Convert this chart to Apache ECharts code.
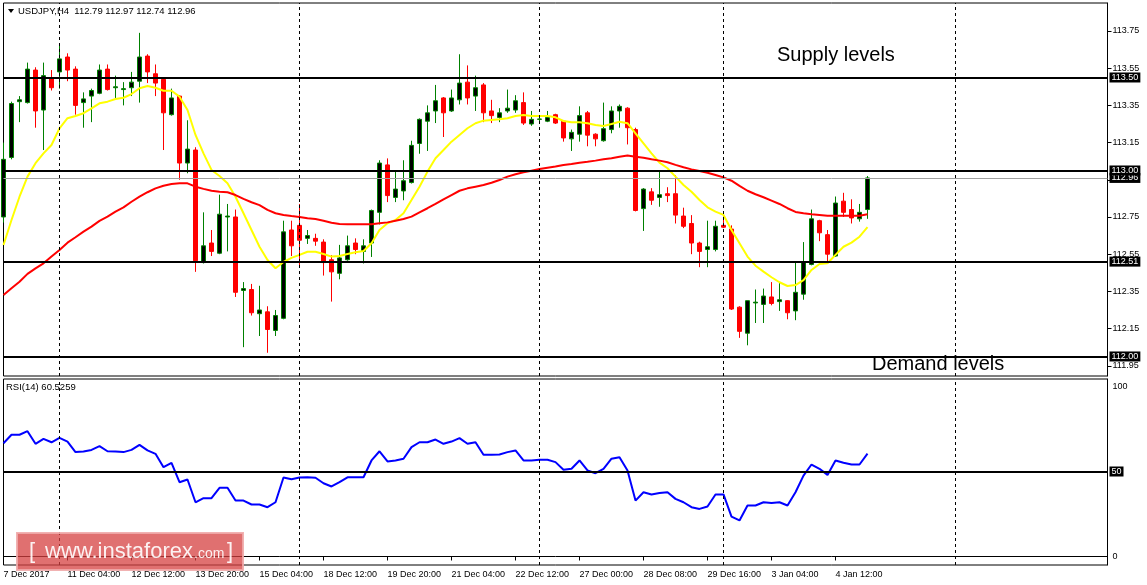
<!DOCTYPE html>
<html><head><meta charset="utf-8">
<script src="https://cdn.jsdelivr.net/npm/echarts@6/dist/echarts.min.js"></script>
<style>html,body{margin:0;padding:0;background:#fff}#c{width:1147px;height:585px}</style>
</head><body><div id="c"></div>
<script>
const symbolName = 'USDJPY,H4';
const timeLabels = ['7 Dec 2017','11 Dec 04:00','12 Dec 12:00','13 Dec 20:00','15 Dec 04:00','18 Dec 12:00','19 Dec 20:00','21 Dec 04:00','22 Dec 12:00','27 Dec 00:00','28 Dec 08:00','29 Dec 16:00','3 Jan 04:00','4 Jan 12:00'];
const barsPerLabel = 8;
const totalSlots = 139;

// [open, high, low, close]
const ohlc = [
[112.75,113.15,112.72,113.06],[113.07,113.37,113.06,113.36],[113.37,113.40,113.26,113.38],[113.365,113.58,113.36,113.545],[113.54,113.555,113.23,113.32],
[113.325,113.58,113.11,113.51],[113.50,113.54,113.43,113.445],[113.53,113.68,113.44,113.60],[113.61,113.63,113.48,113.54],[113.545,113.56,113.30,113.35],
[113.365,113.42,113.23,113.385],[113.40,113.44,113.26,113.43],[113.415,113.57,113.41,113.54],[113.545,113.57,113.43,113.435],[113.445,113.51,113.39,113.45],
[113.435,113.475,113.35,113.44],[113.445,113.53,113.40,113.475],[113.48,113.74,113.365,113.61],[113.615,113.625,113.47,113.53],[113.52,113.57,113.40,113.47],
[113.49,113.50,113.11,113.31],[113.30,113.44,113.295,113.39],[113.40,113.405,112.95,113.04],[113.04,113.27,112.985,113.115],[113.11,113.125,112.455,112.515],
[112.505,112.775,112.50,112.595],[112.61,112.68,112.54,112.565],[112.555,112.87,112.55,112.765],[112.75,112.82,112.565,112.755],[112.75,112.79,112.32,112.345],
[112.355,112.40,112.05,112.365],[112.36,112.39,112.22,112.235],[112.23,112.38,112.11,112.25],[112.24,112.27,112.02,112.145],[112.14,112.25,112.11,112.22],
[112.205,112.73,112.20,112.67],[112.68,112.73,112.54,112.595],[112.705,112.82,112.48,112.625],[112.635,112.68,112.605,112.65],[112.635,112.66,112.595,112.62],
[112.615,112.63,112.435,112.505],[112.52,112.545,112.295,112.455],[112.447,112.60,112.415,112.53],[112.52,112.65,112.515,112.595],[112.61,112.635,112.55,112.575],
[112.565,112.63,112.50,112.595],[112.61,112.79,112.535,112.785],[112.775,113.055,112.71,113.04],[113.03,113.065,112.83,112.865],[112.855,113.00,112.83,112.90],
[112.89,113.055,112.84,112.945],[112.935,113.16,112.93,113.135],[113.145,113.28,113.09,113.275],[113.265,113.35,113.105,113.31],[113.32,113.46,113.255,113.375],
[113.39,113.395,113.18,113.31],[113.32,113.435,113.315,113.39],[113.38,113.625,113.355,113.47],[113.475,113.565,113.355,113.39],[113.40,113.51,113.32,113.445],
[113.46,113.47,113.26,113.31],[113.32,113.38,113.255,113.295],[113.285,113.335,113.26,113.31],[113.32,113.435,113.31,113.335],[113.325,113.405,113.31,113.375],
[113.365,113.42,113.245,113.255],[113.25,113.32,113.24,113.275],[113.275,113.285,113.265,113.277],[113.265,113.32,113.26,113.285],[113.30,113.305,113.25,113.255],
[113.265,113.27,113.155,113.175],[113.17,113.22,113.105,113.205],[113.195,113.345,113.155,113.295],[113.31,113.32,113.13,113.19],[113.195,113.20,113.13,113.17],
[113.16,113.365,113.155,113.225],[113.22,113.345,113.20,113.32],[113.32,113.355,113.23,113.345],[113.335,113.34,113.14,113.23],[113.22,113.23,112.78,112.785],
[112.795,112.905,112.675,112.90],[112.885,112.905,112.815,112.84],[112.855,113.00,112.805,112.87],[112.875,112.91,112.83,112.865],[112.875,112.975,112.715,112.76],
[112.755,112.80,112.69,112.70],[112.715,112.76,112.55,112.61],[112.61,112.617,112.48,112.565],[112.575,112.73,112.48,112.59],[112.575,112.73,112.565,112.70],
[112.705,112.77,112.69,112.695],[112.685,112.705,112.25,112.255],[112.265,112.27,112.10,112.135],[112.125,112.30,112.06,112.30],[112.288,112.36,112.18,112.292],
[112.28,112.365,112.18,112.325],[112.32,112.40,112.275,112.285],[112.295,112.395,112.245,112.305],[112.30,112.302,112.20,112.235],[112.245,112.505,112.195,112.345],
[112.335,112.615,112.305,112.505],[112.495,112.79,112.49,112.74],[112.73,112.735,112.62,112.665],[112.655,112.68,112.50,112.55],[112.54,112.86,112.535,112.825],
[112.835,112.88,112.75,112.775],[112.79,112.845,112.715,112.745],[112.74,112.82,112.725,112.775],[112.79,112.97,112.74,112.96]
];

const maFast = [112.599,112.734,112.859,112.967,113.039,113.092,113.137,113.227,113.281,113.293,
113.308,113.334,113.361,113.370,113.384,113.391,113.411,113.442,113.454,113.445,
113.429,113.429,113.397,113.325,113.191,113.092,113.003,112.970,112.931,112.859,
112.770,112.680,112.590,112.519,112.474,112.508,112.530,112.546,112.563,112.563,
112.551,112.537,112.540,112.551,112.560,112.567,112.609,112.680,112.716,112.734,
112.770,112.841,112.913,112.994,113.066,113.110,113.155,113.191,113.227,113.254,
113.268,113.272,113.275,113.281,113.293,113.298,113.293,113.293,113.293,113.286,
113.266,113.259,113.259,113.254,113.245,113.239,113.250,113.262,113.254,113.200,
113.146,113.092,113.042,113.012,112.967,112.922,112.886,112.841,112.802,112.779,
112.761,112.680,112.609,112.537,112.488,112.456,112.426,112.399,112.379,112.384,
112.411,112.465,112.497,112.501,112.546,112.590,112.612,112.644,112.695];

const maSlow = [112.331,112.367,112.402,112.444,112.474,112.501,112.537,112.573,112.612,112.641,
112.671,112.698,112.729,112.752,112.779,112.802,112.832,112.859,112.883,112.904,
112.918,112.927,112.931,112.931,112.913,112.901,112.891,112.886,112.883,112.868,
112.847,112.829,112.814,112.788,112.770,112.761,112.755,112.750,112.743,112.739,
112.730,112.719,112.712,112.711,112.711,112.711,112.711,112.716,112.721,112.730,
112.739,112.752,112.775,112.797,112.820,112.845,112.868,112.891,112.904,112.913,
112.922,112.934,112.949,112.967,112.980,112.990,112.999,113.008,113.015,113.021,
113.030,113.035,113.042,113.047,113.053,113.060,113.066,113.074,113.080,113.074,
113.069,113.060,113.053,113.044,113.030,113.017,113.006,112.997,112.988,112.976,
112.963,112.945,112.917,112.891,112.872,112.856,112.838,112.820,112.797,112.777,
112.770,112.765,112.761,112.757,112.757,112.757,112.757,112.757,112.765];

const rsiValues = [66.6,71.6,71.6,73.7,66.3,69.2,67.2,69.8,67.6,61.4,
61.8,62.7,64.9,61.9,61.8,61.4,62.7,65.7,62.4,60.4,
52.5,55.1,43.7,45.3,31.9,34.3,34.3,40.4,40.4,32.9,
32.9,30.6,30.6,29.0,31.9,46.5,45.5,46.5,46.6,46.3,
43.1,41.2,43.7,46.6,46.6,46.6,56.5,61.9,55.9,56.5,
57.5,64.3,67.2,67.2,68.8,66.3,67.6,69.6,66.3,67.2,
59.8,59.8,60.0,61.4,62.4,56.5,56.5,56.9,56.9,55.5,
51.0,51.6,56.5,50.6,49.0,51.6,57.5,58.4,50.6,32.9,
37.8,36.5,37.3,37.8,33.9,31.9,29.0,28.0,29.4,36.5,
36.5,23.5,21.2,30.0,30.0,31.9,31.4,31.9,30.0,37.8,
47.6,54.1,51.6,48.0,56.5,55.1,54.1,54.1,60.5259];

const priceTicks = [111.95,112.15,112.35,112.55,112.75,112.95,113.15,113.35,113.55,113.75];
const rsiTicks = [0, 100];
const levelPrices = [113.50, 113.00, 112.51, 112.00];
const currentPrice = 112.96;
const rsiLevel = 50;
const separatorBars = [7, 37, 67, 90, 119];

const FONT = 'Liberation Sans';
const categories = Array.from({length: totalSlots}, (_, i) => String(i));
const showLabel = (idx) => idx % barsPerLabel === 0 && idx / barsPerLabel < timeLabels.length;
const last = ohlc[ohlc.length - 1];

const boxLabel = (txt) => ({
  show: true, position: 'end', distance: 2, formatter: txt,
  color: '#fff', backgroundColor: '#000', fontSize: 9, fontFamily: FONT,
  padding: [1, 2, 0, 2]
});
const sepLines = separatorBars.map(b => ({
  xAxis: b, label: {show: false},
  lineStyle: {color: '#000', width: 1, type: [3, 3]}
}));

const chart = echarts.init(document.getElementById('c'), null, {renderer: 'canvas'});
chart.setOption({
  animation: false,
  backgroundColor: '#fff',
  grid: [
    {left: 3.5, right: 39.5, top: 3, height: 373, show: true, borderColor: '#000', borderWidth: 1, backgroundColor: '#fff'},
    {left: 3.5, right: 39.5, top: 379, height: 186, show: true, borderColor: '#000', borderWidth: 1, backgroundColor: '#fff'}
  ],
  xAxis: [
    {gridIndex: 0, type: 'category', data: categories, boundaryGap: false, show: false},
    {gridIndex: 1, type: 'category', data: categories, boundaryGap: false,
     axisLine: {show: true, lineStyle: {color: '#000', width: 1}},
     axisTick: {show: true, interval: showLabel, length: 4, lineStyle: {color: '#000'}},
     axisLabel: {show: true, interval: showLabel, align: 'left', margin: 5, fontSize: 9, fontFamily: FONT, color: '#000',
       formatter: (v, idx) => timeLabels[idx / barsPerLabel] || ''},
     splitLine: {show: false}}
  ],
  yAxis: [
    {gridIndex: 0, type: 'value', position: 'right', min: 111.895, max: 113.9005, scale: true,
     axisLine: {show: true, lineStyle: {color: '#000'}},
     axisTick: {show: true, customValues: priceTicks, length: 4, lineStyle: {color: '#000'}},
     axisLabel: {show: true, customValues: priceTicks, formatter: v => v.toFixed(2), margin: 5, fontSize: 9, fontFamily: FONT, color: '#000'},
     splitLine: {show: false}},
    {gridIndex: 1, type: 'value', position: 'right', min: -5, max: 104.41,
     axisLine: {show: true, lineStyle: {color: '#000'}},
     axisTick: {show: false},
     axisLabel: {show: true, customValues: rsiTicks, formatter: v => String(v), margin: 5, fontSize: 9, fontFamily: FONT, color: '#000'},
     splitLine: {show: false}}
  ],
  series: [
    {type: 'candlestick', xAxisIndex: 0, yAxisIndex: 0, clip: true, barWidth: 5,
     data: ohlc.map(r => [r[0], r[3], r[2], r[1]]),
     itemStyle: {color: '#000', color0: '#ff0000', borderColor: '#008000', borderColor0: '#ff0000', borderWidth: 1},
     markLine: {silent: true, symbol: ['none', 'none'], animation: false,
       data: [
         {yAxis: currentPrice, lineStyle: {color: '#a0a0a0', width: 1, type: 'solid'}, label: boxLabel(currentPrice.toFixed(2))},
         ...levelPrices.map(p => ({yAxis: p, lineStyle: {color: '#000', width: 2, type: 'solid'}, label: boxLabel(p.toFixed(2))})),
         ...sepLines
       ]}},
    {type: 'line', xAxisIndex: 0, yAxisIndex: 0, data: maFast, symbol: 'none', clip: true,
     lineStyle: {color: '#ffff00', width: 2}},
    {type: 'line', xAxisIndex: 0, yAxisIndex: 0, data: maSlow, symbol: 'none', clip: true,
     lineStyle: {color: '#ff0000', width: 2}},
    {type: 'line', xAxisIndex: 1, yAxisIndex: 1, data: rsiValues, symbol: 'none', clip: true,
     lineStyle: {color: '#0000ff', width: 2},
     markLine: {silent: true, symbol: ['none', 'none'], animation: false,
       data: [
         {yAxis: rsiLevel, lineStyle: {color: '#000', width: 2, type: 'solid'}, label: boxLabel(String(rsiLevel))},
         ...sepLines
       ]}}
  ],
  graphic: [
    {type: 'polygon', z: 100, shape: {points: [[8, 9], [14, 9], [11, 13]]}, style: {fill: '#000'}},
    {type: 'text', z: 100, x: 18, y: 11, style: {text: symbolName + '  ' + [last[0], last[1], last[2], last[3]].map(v => v.toFixed(2)).join(' '),
      fontSize: 9.5, fontFamily: FONT, fill: '#000', verticalAlign: 'middle'}},
    {type: 'text', z: 100, x: 6, y: 387, style: {text: 'RSI(14) ' + rsiValues[rsiValues.length - 1].toFixed(4),
      fontSize: 9.5, fontFamily: FONT, fill: '#000', verticalAlign: 'middle'}},
    {type: 'text', z: 100, x: 777, y: 55, style: {text: 'Supply levels', fontSize: 20, fontFamily: FONT, fill: '#000', verticalAlign: 'middle'}},
    {type: 'text', z: 100, x: 872, y: 364, style: {text: 'Demand levels', fontSize: 20, fontFamily: FONT, fill: '#000', verticalAlign: 'middle'}},
    {type: 'rect', z: 200, shape: {x: 17, y: 533, width: 226, height: 37},
     style: {fill: 'rgba(214,64,64,0.75)', stroke: 'rgba(240,170,170,0.9)', lineWidth: 2}},
    {type: 'text', z: 201, x: 29, y: 552, style: {text: '[', fontSize: 22, fontFamily: FONT, fill: 'rgba(255,255,255,0.9)', verticalAlign: 'middle'}},
    {type: 'text', z: 201, x: 45, y: 552, style: {text: 'www.instaforex', fontSize: 22, fontFamily: FONT, fill: 'rgba(255,255,255,0.9)', verticalAlign: 'middle'}},
    {type: 'text', z: 201, x: 194, y: 554, style: {text: '.com', fontSize: 14, fontFamily: FONT, fill: 'rgba(255,255,255,0.9)', verticalAlign: 'middle'}},
    {type: 'text', z: 201, x: 227, y: 552, style: {text: ']', fontSize: 22, fontFamily: FONT, fill: 'rgba(255,255,255,0.9)', verticalAlign: 'middle'}}
  ]
});
</script>
</body></html>
